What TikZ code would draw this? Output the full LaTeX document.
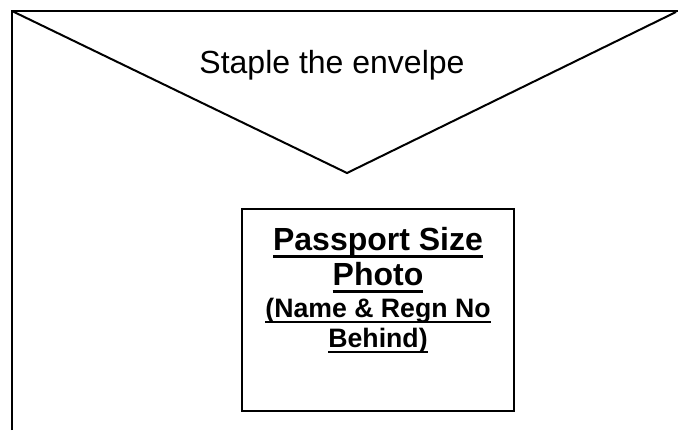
\documentclass[tikz,border=0pt]{standalone}
\usepackage{fontspec}
\setmainfont{Liberation Sans}
\usepackage{tikz}
\usetikzlibrary{positioning}

% underlines with a fixed depth, as in the original form
\newcommand{\bigul}[1]{\sbox0{#1}\rlap{\usebox0}\rule[-5.7pt]{\wd0}{1.7pt}}
\newcommand{\smallul}[1]{\sbox0{#1}\rlap{\usebox0}\rule[-4.4pt]{\wd0}{1.4pt}}

\begin{document}
\begin{tikzpicture}[
    x=0.75pt, y=-0.75pt,
    envline/.style={line width=1.5pt, line join=miter},
    photobox/.style={rectangle, draw, line width=0.9pt, minimum width=204pt, minimum height=151.5pt, inner sep=0pt},
    notetext/.style={inner sep=0pt, anchor=base, font=\fontsize{24}{28}\selectfont},
    bigline/.style={inner sep=0pt, anchor=base, font=\fontsize{24}{28}\selectfont\bfseries},
    smallline/.style={inner sep=0pt, anchor=base, font=\fontsize{20}{23}\selectfont\bfseries}
]
\useasboundingbox (0,0) rectangle (678,430);

% envelope outline and flap
\coordinate (tl) at (12,11);
\coordinate (tr) at (678,11);
\coordinate (bl) at (12,430);
\coordinate (tip) at (347,173);
\coordinate (fr) at (676,12);

\draw[envline] (bl) -- (tl) -- (tr);
\draw[envline] (tl) -- (tip) -- (fr);

\node[notetext] (staple) at (332,73) {Staple the envelpe};

% photo box
\node[photobox] (photo) at (378,310) {};
\node[bigline] (line1) at (378,250) {\bigul{Passport Size}};
\node[bigline] (line2) at (378,285) {\bigul{Photo}};
\node[smallline] (line3) at (378,317) {\smallul{(Name \& Regn No}};
\node[smallline] (line4) at (378,347) {\smallul{Behind)}};

\end{tikzpicture}
\end{document}
